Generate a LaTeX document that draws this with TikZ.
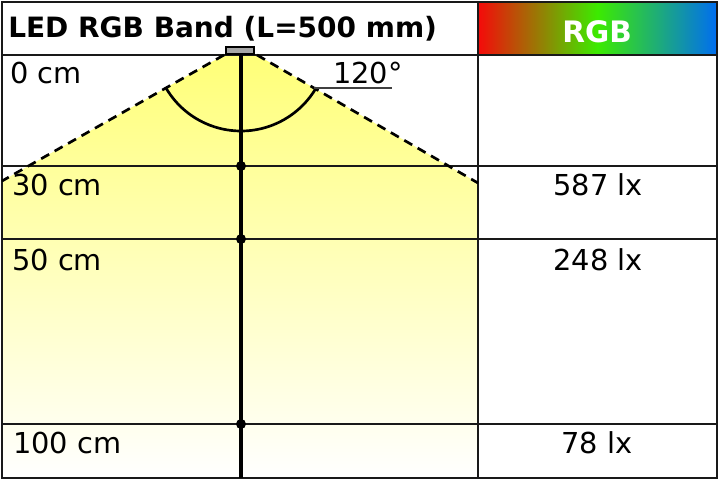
\documentclass[tikz,border=0pt]{standalone}
\usepackage{fontspec}
\setmainfont{DejaVu Sans}
\usetikzlibrary{positioning}
\definecolor{rgbred}{RGB}{245,10,10}
\definecolor{rgbgreen}{RGB}{60,235,0}
\definecolor{rgbblue}{RGB}{0,110,240}
\definecolor{beam}{RGB}{255,255,120}

\begin{document}
\begin{tikzpicture}[x=0.025cm, y=-0.025cm,
  grid/.style={line width=1.9pt, draw=black!90},
  cone/.style={line width=1.9pt, dash pattern=on 6.5pt off 4.5pt},
  lbl/.style={anchor=base west, inner sep=0pt, font=\fontsize{20.5}{22}\selectfont},
  val/.style={anchor=base, inner sep=0pt, font=\fontsize{20.5}{22}\selectfont},
  head/.style={inner sep=0pt, font=\bfseries\fontsize{19.9}{22}\selectfont}]
\useasboundingbox (0,0) rectangle (720,480);
\coordinate (ledl) at (224,55);
\coordinate (ledr) at (257,55);
\coordinate (edgel) at (2,181);
\coordinate (edger) at (478,183);
\shade[top color=beam, bottom color=white] (ledl) -- (edgel) -- (2,478) -- (478,478) -- (edger) -- (ledr) -- cycle;
\shade[left color=rgbred, right color=rgbblue, middle color=rgbgreen] (478,2) rectangle (717,55);
\draw[grid] (2,2) rectangle (717,478);
\draw[grid] (2,55) -- (717,55);
\draw[grid] (478,2) -- (478,478);
\draw[grid] (2,166) -- (717,166);
\draw[grid] (2,239) -- (717,239);
\draw[grid] (2,424) -- (717,424);
\draw[cone] (ledl) -- (edgel);
\draw[cone] (ledr) -- (edger);
\draw[line width=1.9pt] (165.7,87.5) arc[start angle=150, end angle=30, radius=87];
\draw[line width=0.9pt, black!75] (314,88) -- (392,88);
\coordinate (led) at (241,54);
\coordinate (foot) at (241,478);
\draw[line width=2.6pt] (led) -- (foot);
\draw[fill=black!35, line width=1.1pt] (226,47) rectangle (254,54);
\fill (241,166) circle (5);
\fill (241,239) circle (5);
\fill (241,424) circle (5);
\node[head, anchor=base west] (title) at (8,37) {LED RGB Band (L=500 mm)};
\node[head, anchor=base, white, font=\bfseries\fontsize{21}{24}\selectfont] (rgb) at (597,42) {RGB};
\node[lbl] (d0) at (10,83) {0 cm};
\node[lbl] (ang) at (333,83) {120°};
\node[lbl] (d30) at (12,195) {30 cm};
\node[lbl] (d50) at (12,270) {50 cm};
\node[lbl] (d100) at (13,453) {100 cm};
\node[val] (e30) at (598,195) {587 lx};
\node[val] (e50) at (598,270) {248 lx};
\node[val] (e100) at (597,453) {78 lx};
\end{tikzpicture}
\end{document}
